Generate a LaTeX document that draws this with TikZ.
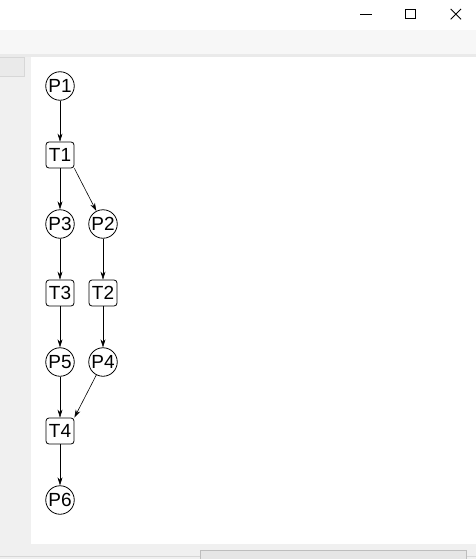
\documentclass[tikz,border=0pt]{standalone}
\usepackage{fontspec}
\setmainfont{Liberation Sans}
\usetikzlibrary{arrows.meta}
\definecolor{panel}{HTML}{F0F0F0}
\definecolor{tool}{HTML}{F7F7F7}
\definecolor{sep}{HTML}{EAEAEA}
\definecolor{thumb}{HTML}{E6E6E6}
\definecolor{thumbline}{HTML}{BDBDBD}
\tikzset{
  place/.style={draw=black, line width=0.8pt, circle, minimum size=28.5pt, inner sep=0pt, font=\fontsize{19}{19}\selectfont},
  trans/.style={draw=black, line width=0.8pt, rounded corners=3pt, minimum width=28pt, minimum height=26pt, inner sep=0pt, font=\fontsize{19}{19}\selectfont},
  arc/.style={line width=0.6pt, -{Stealth[length=8pt,width=5pt]}},
  ctl/.style={line width=0.8pt, black}
}
\begin{document}
\begin{tikzpicture}[x=1pt,y=-1pt]
\useasboundingbox (0,0) rectangle (476,559);
% window background
\fill[white] (0,0) rectangle (476,30);
\fill[tool] (0,30) rectangle (476,54);
\fill[sep] (0,54) rectangle (476,57);
\fill[panel] (0,57) rectangle (476,559);
\fill[white] (31,57) rectangle (476,543.5);
\filldraw[fill=sep, draw=thumbline!60, line width=0.6pt] (-1,57.5) rectangle (24.3,76);
\draw[thumbline!60, line width=0.6pt] (0,556.5) -- (476,556.5);
\filldraw[fill=thumb, draw=thumbline, line width=0.6pt] (200,550.5) rectangle (466,560);
% window controls
\draw[ctl] (360,14) -- (372,14);
\draw[ctl] (405,9.3) rectangle (415,18.7);
\draw[ctl] (450.7,9) -- (461,19.3) (450.7,19.3) -- (461,9);
% nodes
\node[place] (P1) at (60,86) {P1};
\node[trans] (T1) at (60,155) {T1};
\node[place] (P3) at (60,224) {P3};
\node[place] (P2) at (103,224) {P2};
\node[trans] (T3) at (60,293) {T3};
\node[trans] (T2) at (103,293) {T2};
\node[place] (P5) at (60,362) {P5};
\node[place] (P4) at (103,362) {P4};
\node[trans] (T4) at (60,431) {T4};
\node[place] (P6) at (60,500) {P6};
% arcs
\draw[arc] (P1) -- (T1);
\draw[arc] (T1) -- (P3);
\draw[arc] (T1.south east) -- (P2);
\draw[arc] (P3) -- (T3);
\draw[arc] (P2) -- (T2);
\draw[arc] (T3) -- (P5);
\draw[arc] (T2) -- (P4);
\draw[arc] (P5) -- (T4);
\draw[arc] (P4) -- (T4.north east);
\draw[arc] (T4) -- (P6);
\end{tikzpicture}
\end{document}
